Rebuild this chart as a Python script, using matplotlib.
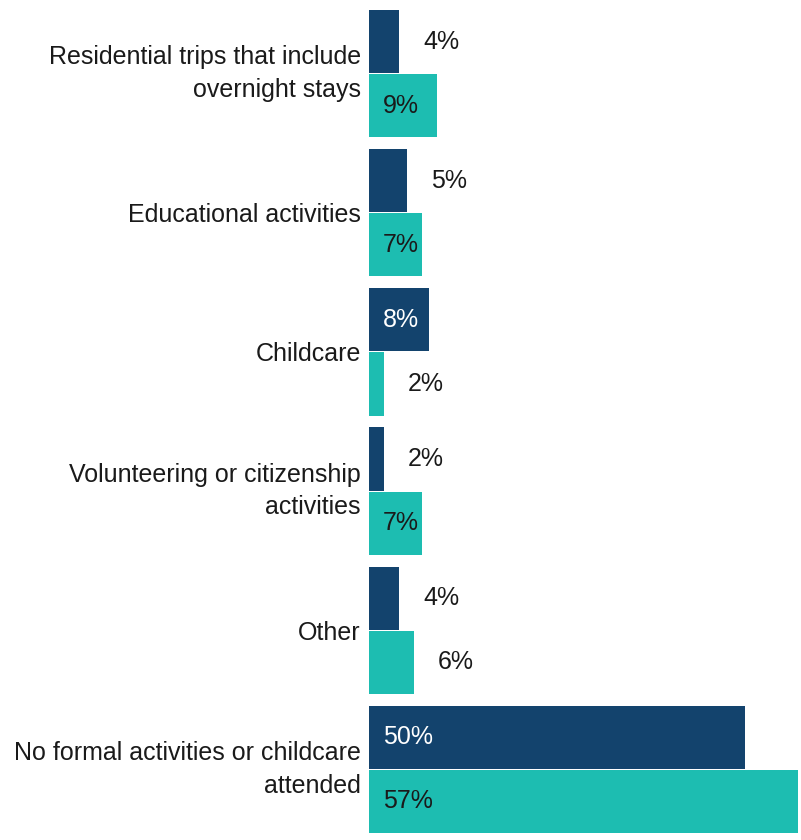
import numpy as np
import matplotlib
matplotlib.use("Agg")
import matplotlib.pyplot as plt

plt.rcParams.update({"font.family": "Liberation Sans", "font.size": 18})

# %% data

categories = ["Residential trips that include\novernight stays",
              "Educational activities",
              "Childcare",
              "Volunteering or citizenship\nactivities",
              "Other",
              "No formal activities or childcare\nattended"]
group_a_pct = [4, 5, 8, 2, 4, 50]
group_b_pct = [9, 7, 2, 7, 6, 57]

dark_blue = "#13436D"
teal = "#1DBDB1"

# %% plot

fig = plt.figure(figsize=(8.01, 8.40), dpi=100)
ax = fig.add_axes([0.4607, 0.0083, 0.5352, 0.9798])

y = np.arange(len(categories))
bar_h = 0.454
off = 0.2305

bars_a = ax.barh(y - off, group_a_pct, height=bar_h, color=dark_blue)
bars_b = ax.barh(y + off, group_b_pct, height=bar_h, color=teal)

# px -> data units along x
px = 57 / 428.7

for bars, vals, inside_col in [(bars_a, group_a_pct, "white"), (bars_b, group_b_pct, "#1a1a1a")]:
    for b, v in zip(bars, vals):
        yc = b.get_y() + b.get_height() / 2
        if v >= 7:
            ax.text(14 * px, yc, f"{v}%", va="center", ha="left", color=inside_col)
        else:
            ax.text(v + 24 * px, yc, f"{v}%", va="center", ha="left", color="#1a1a1a")

ax.set_xlim(0, 57)
ax.set_ylim(5.4575, -0.4575)
ax.set_yticks(y)
ax.set_yticklabels(categories, color="#1a1a1a", linespacing=1.45)
for lbl in ax.get_yticklabels():
    if "\n" in lbl.get_text():
        lbl.set_va("center")
ax.tick_params(axis="y", length=0, pad=6)
ax.set_xticks([])
for s in ax.spines.values():
    s.set_visible(False)

plt.savefig("out.png", dpi=100)
